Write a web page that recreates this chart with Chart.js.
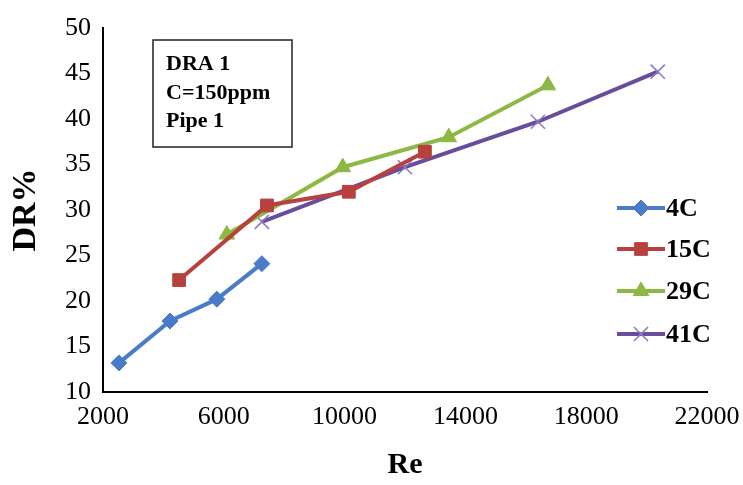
<!DOCTYPE html>
<html>
<head>
<meta charset="utf-8">
<script src="https://cdn.jsdelivr.net/npm/chart.js@4"></script>
<style>
  body { margin: 0; background: #fff; }
  canvas { display: block; }
</style>
</head>
<body>
<canvas id="drChart" width="743" height="485"></canvas>
<script>
// Re values and DR%
const re4C = [2530, 4220, 5770, 7260];
const dr4C = [13.2, 17.8, 20.2, 24.1];

const re15C = [4520, 7430, 10140, 12660];
const dr15C = [22.3, 30.5, 32.0, 36.4];

const re29C = [6100, 9940, 13450, 16730];
const dr29C = [27.3, 34.7, 38.0, 43.7];

const re41C = [7260, 12000, 16400, 20370];
const dr41C = [28.7, 34.7, 39.7, 45.2];

const seriesNames = ['4C', '15C', '29C', '41C'];
const noteLines = ['DRA 1', 'C=150ppm', 'Pipe 1'];

const serif = "'Liberation Serif', 'Times New Roman', serif";

const toPoints = (xs, ys) => xs.map((x, i) => ({ x: x, y: ys[i] }));

// right-hand legend: line with marker, then bold label
const lineLegend = {
    id: 'lineLegend',
    afterDraw(chart) {
        const ctx = chart.ctx;
        const rowsY = [208, 249, 291, 334];
        ctx.save();
        chart.data.datasets.forEach((ds, i) => {
            const y = rowsY[i];
            ctx.strokeStyle = ds.borderColor;
            ctx.lineWidth = 4;
            ctx.beginPath();
            ctx.moveTo(617, y);
            ctx.lineTo(665, y);
            ctx.stroke();
            ctx.fillStyle = ds.pointBackgroundColor;
            ctx.strokeStyle = ds.pointBorderColor;
            ctx.lineWidth = ds.pointBorderWidth;
            Chart.helpers.drawPoint(ctx, {
                pointStyle: ds.pointStyle,
                radius: ds.pointRadius,
                borderWidth: ds.pointBorderWidth,
                rotation: 0
            }, 641, y);
            ctx.fillStyle = '#000';
            ctx.font = 'bold 26px ' + serif;
            ctx.textBaseline = 'middle';
            ctx.textAlign = 'left';
            ctx.fillText(ds.label, 666, y + 1);
        });
        ctx.restore();
    }
};

// boxed note in the top-left of the plot
const noteBox = {
    id: 'noteBox',
    afterDraw(chart) {
        const ctx = chart.ctx;
        ctx.save();
        ctx.strokeStyle = '#222';
        ctx.lineWidth = 1.5;
        ctx.strokeRect(153, 40, 139, 107);
        ctx.fillStyle = '#000';
        ctx.font = 'bold 22px ' + serif;
        ctx.textBaseline = 'middle';
        ctx.textAlign = 'left';
        const ys = [64, 93, 121];
        noteLines.forEach((t, i) => ctx.fillText(t, 166, ys[i]));
        ctx.restore();
    }
};

const common = { showLine: true, borderWidth: 4, fill: false, pointBorderWidth: 1 };

new Chart(document.getElementById('drChart').getContext('2d'), {
    type: 'scatter',
    data: {
        datasets: [
            Object.assign({}, common, {
                label: seriesNames[0],
                data: toPoints(re4C, dr4C),
                borderColor: '#4A7BC8',
                pointBackgroundColor: '#4A7BC8',
                pointBorderColor: '#4A7BC8',
                pointStyle: 'rectRot',
                pointRadius: 8
            }),
            Object.assign({}, common, {
                label: seriesNames[1],
                data: toPoints(re15C, dr15C),
                borderColor: '#B8413E',
                pointBackgroundColor: '#B8413E',
                pointBorderColor: '#B8413E',
                pointStyle: 'rect',
                pointRadius: 9
            }),
            Object.assign({}, common, {
                label: seriesNames[2],
                data: toPoints(re29C, dr29C),
                borderColor: '#8DB843',
                pointBackgroundColor: '#8DB843',
                pointBorderColor: '#8DB843',
                pointStyle: 'triangle',
                pointRadius: 9
            }),
            Object.assign({}, common, {
                label: seriesNames[3],
                data: toPoints(re41C, dr41C),
                borderColor: '#6A4C9C',
                pointBackgroundColor: '#8A78C0',
                pointBorderColor: '#8A78C0',
                pointStyle: 'crossRot',
                pointRadius: 10,
                pointBorderWidth: 1.5
            })
        ]
    },
    options: {
        responsive: false,
        animation: false,
        layout: { padding: { top: 28, right: 36, left: 0, bottom: 0 } },
        plugins: {
            legend: { display: false },
            tooltip: { enabled: false }
        },
        scales: {
            x: {
                type: 'linear',
                min: 2000,
                max: 22000,
                ticks: {
                    stepSize: 4000,
                    color: '#000',
                    font: { family: serif, size: 26 },
                    padding: 10,
                    maxRotation: 0,
                    callback: v => String(v)
                },
                grid: { display: false, drawTicks: false },
                border: { color: '#000', width: 2 },
                title: {
                    display: true,
                    text: 'Re',
                    color: '#000',
                    font: { family: serif, size: 30, weight: 'bold' },
                    padding: { top: 0, bottom: 2 }
                },
                afterFit: s => {
                    s.height = 93;
                    s.paddingLeft = 0;
                    s.paddingRight = 0;
                }
            },
            y: {
                min: 10,
                max: 50,
                ticks: {
                    stepSize: 5,
                    color: '#000',
                    font: { family: serif, size: 26 },
                    padding: 12
                },
                grid: { display: false, drawTicks: false },
                border: { color: '#000', width: 2 },
                title: {
                    display: true,
                    text: 'DR%',
                    color: '#000',
                    font: { family: serif, size: 34, weight: 'bold' },
                    padding: { top: 6, bottom: 0 }
                },
                afterFit: s => { s.width = 103; }
            }
        }
    },
    plugins: [lineLegend, noteBox]
});
</script>
</body>
</html>
